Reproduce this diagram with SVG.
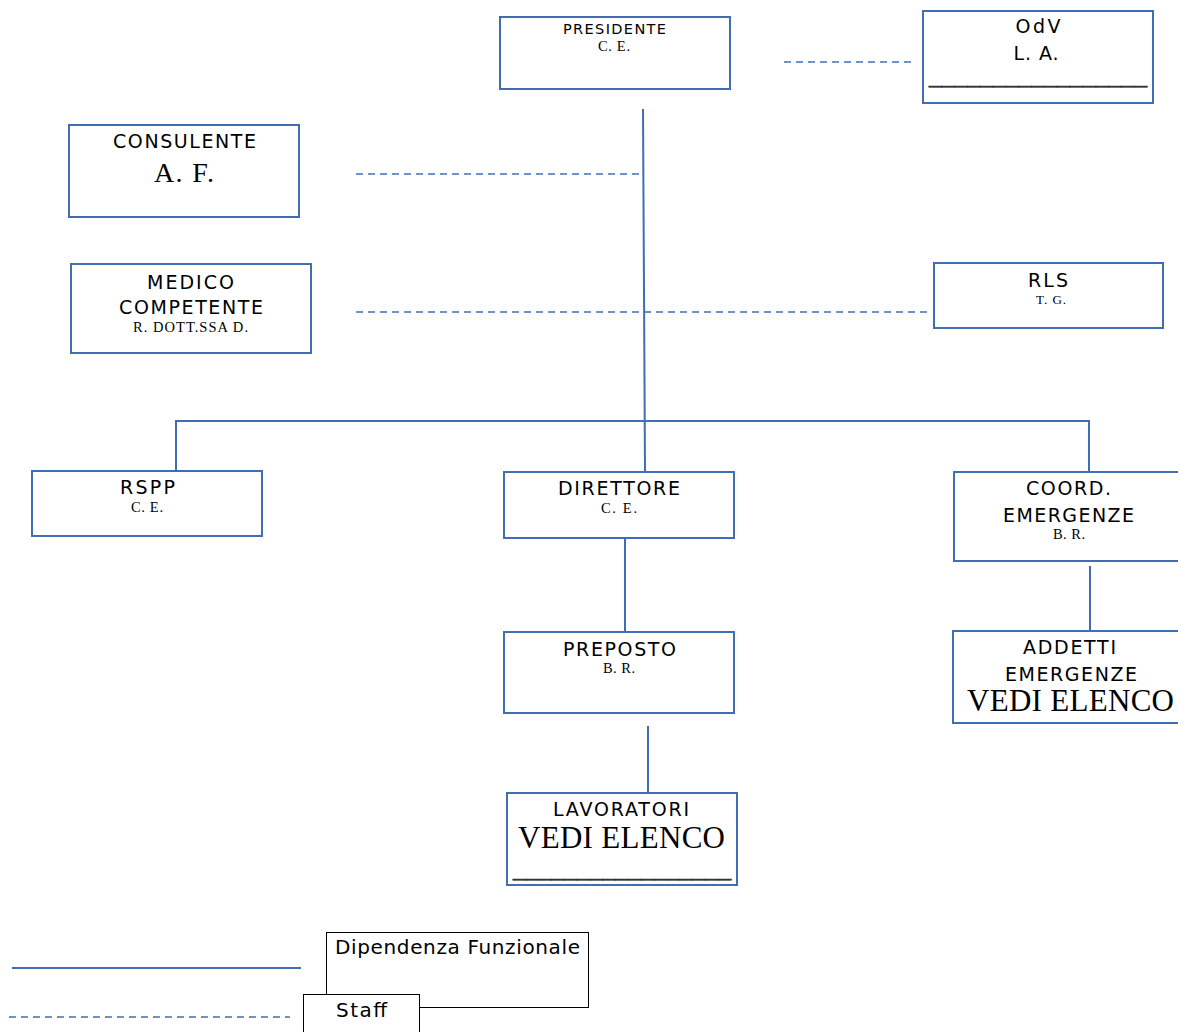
<svg xmlns="http://www.w3.org/2000/svg" width="1178" height="1032" viewBox="0 0 1178 1032">
<style>
.box{fill:#fff;stroke:#3f6eb5;stroke-width:2}
.lg{fill:#fff;stroke:#000;stroke-width:1}
.ln{stroke:#3f6eb5;stroke-width:2;fill:none}
.dl{stroke:#3f6eb5;stroke-width:1.6;stroke-dasharray:7 5;fill:none}
.s{font-family:"DejaVu Sans",Verdana,sans-serif;fill:#000;text-anchor:middle;font-size:19px}
.ss{font-family:"DejaVu Sans",Verdana,sans-serif;fill:#000;text-anchor:middle;font-size:14.5px}
.r{font-family:"Liberation Serif","Times New Roman",serif;fill:#000;text-anchor:middle;font-size:14.5px}
.rb{font-family:"Liberation Serif","Times New Roman",serif;fill:#000;text-anchor:middle;font-size:31px}
.u{font-family:"Liberation Serif","Times New Roman",serif;fill:#333;stroke:#333;stroke-width:0.7;text-anchor:middle;font-size:24px}
.l{font-family:"DejaVu Sans",Verdana,sans-serif;fill:#000;font-size:20px}
</style>
<rect width="1178" height="1032" fill="#fff"/>
<g id="connectors">
<line class="ln" x1="643" y1="109" x2="645" y2="472"/>
<polyline class="ln" points="176,471 176,421 1089,421 1089,472"/>
<line class="ln" x1="625" y1="538" x2="625" y2="632"/>
<line class="ln" x1="648" y1="726" x2="648" y2="793"/>
<line class="ln" x1="1090" y1="566" x2="1090" y2="631"/>
<line class="dl" x1="784" y1="62" x2="915" y2="62"/>
<line class="dl" x1="356" y1="174" x2="640" y2="174"/>
<line class="dl" x1="356" y1="312" x2="928" y2="312"/>
</g>
<g id="presidente">
<rect class="box" x="500" y="17" width="230" height="72"/>
<text class="ss" x="614.5" y="34" textLength="103" lengthAdjust="spacing">PRESIDENTE</text>
<text class="r" x="614" y="51" textLength="32" lengthAdjust="spacing">C. E.</text>
</g>
<g id="odv">
<rect class="box" x="923" y="11" width="230" height="92"/>
<text class="s" x="1038" y="33" textLength="45" lengthAdjust="spacing">OdV</text>
<text class="s" x="1036" y="60" textLength="45" lengthAdjust="spacing">L. A.</text>
<text class="u" x="1038" y="84" textLength="218" lengthAdjust="spacingAndGlyphs">_________________</text>
</g>
<g id="consulente">
<rect class="box" x="69" y="125" width="230" height="92"/>
<text class="s" x="184.5" y="148" textLength="143" lengthAdjust="spacing">CONSULENTE</text>
<text class="rb" x="184" y="182" style="font-size:28px" textLength="60" lengthAdjust="spacing">A. F.</text>
</g>
<g id="medico">
<rect class="box" x="71" y="264" width="240" height="89"/>
<text class="s" x="190.5" y="288.5" textLength="87" lengthAdjust="spacing">MEDICO</text>
<text class="s" x="191" y="313.5" textLength="144" lengthAdjust="spacing">COMPETENTE</text>
<text class="r" x="190.5" y="332" textLength="115" lengthAdjust="spacing">R.  DOTT.SSA D.</text>
</g>
<g id="rls">
<rect class="box" x="934" y="263" width="229" height="65"/>
<text class="s" x="1048" y="287" textLength="40" lengthAdjust="spacing">RLS</text>
<text class="r" x="1051" y="304" style="font-size:13px" textLength="30" lengthAdjust="spacing">T.  G.</text>
</g>
<g id="rspp">
<rect class="box" x="32" y="471" width="230" height="65"/>
<text class="s" x="147.5" y="494" textLength="55" lengthAdjust="spacing">RSPP</text>
<text class="r" x="147" y="512" textLength="32" lengthAdjust="spacing">C. E.</text>
</g>
<g id="direttore">
<rect class="box" x="504" y="472" width="230" height="66"/>
<text class="s" x="619" y="495" textLength="122" lengthAdjust="spacing">DIRETTORE</text>
<text class="r" x="619" y="513" textLength="36" lengthAdjust="spacing">C.  E.</text>
</g>
<g id="coord">
<rect class="box" x="954" y="472" width="232" height="89"/>
<text class="s" x="1068.5" y="495" textLength="85" lengthAdjust="spacing">COORD.</text>
<text class="s" x="1068.5" y="521.5" textLength="131" lengthAdjust="spacing">EMERGENZE</text>
<text class="r" x="1069" y="539" textLength="32" lengthAdjust="spacing">B. R.</text>
</g>
<g id="addetti">
<rect class="box" x="953" y="631" width="233" height="92"/>
<text class="s" x="1069.5" y="654" textLength="93" lengthAdjust="spacing">ADDETTI</text>
<text class="s" x="1071" y="680.5" textLength="132" lengthAdjust="spacing">EMERGENZE</text>
<text class="rb" x="1070.5" y="711" textLength="207" lengthAdjust="spacing">VEDI ELENCO</text>
</g>
<g id="preposto">
<rect class="box" x="504" y="632" width="230" height="81"/>
<text class="s" x="619.5" y="655.5" textLength="113" lengthAdjust="spacing">PREPOSTO</text>
<text class="r" x="619" y="673" textLength="32" lengthAdjust="spacing">B. R.</text>
</g>
<g id="lavoratori">
<rect class="box" x="507" y="793" width="230" height="92"/>
<text class="s" x="621" y="815.5" textLength="136" lengthAdjust="spacing">LAVORATORI</text>
<text class="rb" x="621.5" y="848" textLength="207" lengthAdjust="spacing">VEDI ELENCO</text>
<text class="u" x="622" y="877" textLength="218" lengthAdjust="spacingAndGlyphs">_________________</text>
</g>
<g id="legend">
<line class="ln" x1="12" y1="968" x2="301" y2="968"/>
<line class="dl" x1="9" y1="1017" x2="290" y2="1017"/>
<rect class="lg" x="326.5" y="932.5" width="262" height="75"/>
<text class="l" x="335" y="954" textLength="245" lengthAdjust="spacing">Dipendenza Funzionale</text>
<rect class="lg" x="303.5" y="994.5" width="116" height="50"/>
<text class="l" x="336" y="1017" textLength="51" lengthAdjust="spacing">Staff</text>
</g>
</svg>
